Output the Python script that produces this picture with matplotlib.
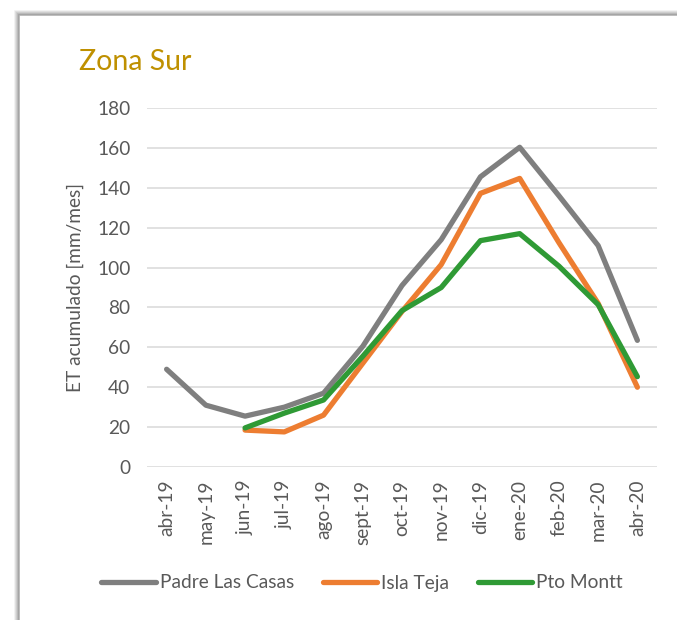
import matplotlib
matplotlib.use("Agg")
import matplotlib.pyplot as plt
from matplotlib.patches import Rectangle
import numpy as np

months = ["abr-19", "may-19", "jun-19", "jul-19", "ago-19", "sept-19", "oct-19",
          "nov-19", "dic-19", "ene-20", "feb-20", "mar-20", "abr-20"]
padre_las_casas = [49, 31, 25.5, 30, 37, 60.5, 91, 114, 145.5, 160.3, 136, 111, 63.5]
isla_teja = [None, None, 18.5, 17.6, 26, 52, 78, 101.5, 137.2, 144.7, 112.5, 82, 40]
pto_montt = [None, None, 19.6, 27, 33.6, 55.5, 78.4, 90, 113.5, 117, 100.7, 81.4, 45.3]

plt.rcParams['font.family'] = ['Lato', 'DejaVu Sans']

fig = plt.figure(figsize=(6.77, 6.2), dpi=100)
fig.patch.set_facecolor('white')

# frame with soft shadow
W, H = 677, 620
for i, a in enumerate([0.10, 0.18, 0.28, 0.40, 0.55]):
    off = 5 - i
    fig.add_artist(Rectangle(((20 - off) / W, -0.2), 2.0, (1 - (16 - off) / H) + 0.2,
                             transform=fig.transFigure, facecolor='none',
                             edgecolor=(0.45, 0.45, 0.45, a), linewidth=1.2, zorder=0))
fig.add_artist(Rectangle((22 / W, -0.2), 2.0, (1 - 18 / H) + 0.2,
                         transform=fig.transFigure, facecolor='white',
                         edgecolor='none', zorder=0.5))

ax = fig.add_axes([147 / W, 1 - 467 / H, 510 / W, (467 - 108) / H])
ax.set_zorder(3)
x = np.arange(len(months))

def arr(v):
    return np.array([np.nan if e is None else e for e in v], dtype=float)

lw = 3.8
ax.plot(x, arr(padre_las_casas), color='#7F7F7F', lw=lw, label='Padre Las Casas',
        solid_capstyle='round', solid_joinstyle='round')
ax.plot(x, arr(isla_teja), color='#ED7D31', lw=lw, label='Isla Teja',
        solid_capstyle='round', solid_joinstyle='round')
ax.plot(x, arr(pto_montt), color='#2F9A35', lw=lw, label='Pto Montt',
        solid_capstyle='round', solid_joinstyle='round')

fs = 13.8
ax.set_xlim(-0.5, len(months) - 0.5)
ax.set_ylim(0, 180)
ax.set_yticks(np.arange(0, 181, 20))
ax.set_xticks(x)
ax.set_xticklabels(months, rotation=90)
ax.grid(axis='y', color='#D9D9D9', lw=1.1)
ax.set_axisbelow(True)
for s in ax.spines.values():
    s.set_visible(False)
ax.tick_params(axis='both', length=0, colors='#595959', labelsize=fs)
ax.tick_params(axis='y', pad=12)
ax.tick_params(axis='x', pad=9)
ax.set_ylabel('ET acumulado [mm/mes]', color='#595959', fontsize=fs)
ax.yaxis.set_label_coords(-0.123, 0.5)
ax.set_facecolor('none')

fig.text(79 / W, 1 - 62 / H, 'Zona Sur', color='#BF9000', fontsize=20.5, va='center', ha='left')

leg = fig.legend(loc='center', bbox_to_anchor=(362 / W, 1 - 583 / H), ncol=3,
                 frameon=False, fontsize=fs, handlelength=2.85, handletextpad=0.2,
                 columnspacing=1.5)
leg.set_zorder(4)
for t in leg.get_texts():
    t.set_color('#595959')

fig.savefig('out.png', dpi=100)
